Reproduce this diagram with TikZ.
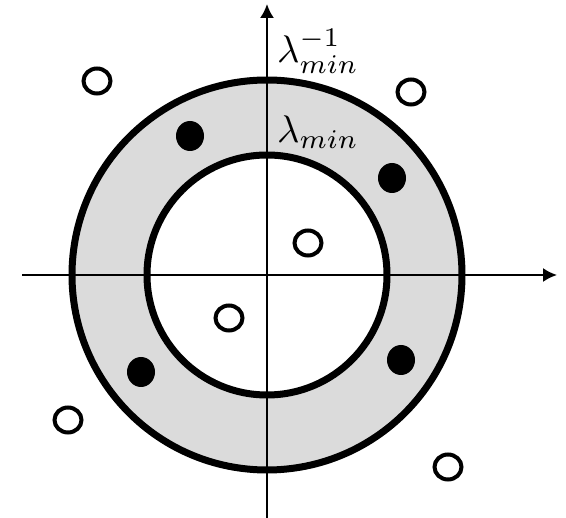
\documentclass[tikz,border=0pt]{standalone}
\usepackage{graphicx}
\usepackage{amsmath,amssymb}
\usetikzlibrary{arrows,arrows.meta,shapes.geometric,positioning,calc}

\tikzset{
  axis/.style={line width=2pt,-{Latex[length=14pt,width=14pt]}},
  ring/.style={line width=7pt},
  opendot/.style={ellipse,draw,line width=4pt,fill=white,minimum width=27pt,minimum height=25pt,inner sep=0pt},
  fulldot/.style={ellipse,fill=black,minimum width=28pt,minimum height=30pt,inner sep=0pt},
  eig/.style={inner sep=0pt,anchor=west}
}
\newcommand{\biglabel}[1]{\scalebox{3.85}{$#1$}}

\begin{document}
\begin{tikzpicture}[x=1pt,y=-1pt]
  \useasboundingbox (0,0) rectangle (566,518);

  % Centre of the plane
  \coordinate (O) at (267,275);

  % Shaded ring
  \fill[gray!28,even odd rule] (O) circle (195) (O) circle (120);

  % Axes
  \coordinate (xl) at (22,275);
  \coordinate (xr) at (557,275);
  \coordinate (yb) at (267,518);
  \coordinate (yt) at (267,4);
  \draw[axis] (xl) -- (xr);
  \draw[axis] (yb) -- (yt);

  % Circles
  \draw[ring] (O) circle (195);
  \draw[ring] (O) circle (120);

  % Labels
  \node[eig] (linv) at (277,51) {\biglabel{\lambda_{min}^{-1}}};
  \node[eig] (lmin) at (277,132) {\biglabel{\lambda_{min}}};

  % Eigenvalues inside the ring
  \foreach \px/\py [count=\i] in {190/136, 392/178, 401/360, 141/372} {
    \node[fulldot] (f\i) at (\px,\py) {};
  }

  % Eigenvalues outside the ring
  \foreach \px/\py [count=\i] in {97/81, 411/92, 308/243, 229/318, 68/420, 448/467} {
    \node[opendot] (o\i) at (\px,\py) {};
  }
\end{tikzpicture}
\end{document}
